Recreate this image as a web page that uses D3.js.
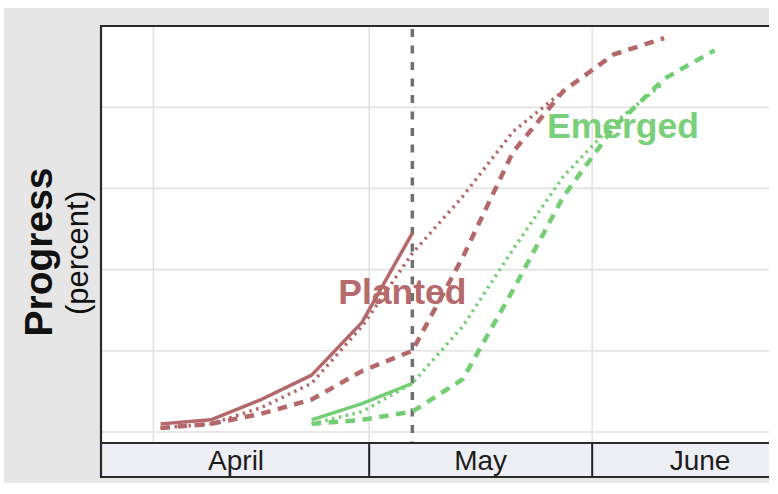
<!DOCTYPE html>
<html>
<head>
<meta charset="utf-8">
<script src="https://cdn.jsdelivr.net/npm/d3@7"></script>
<style>
  html, body { margin: 0; padding: 0; background: #ffffff; }
  svg { display: block; font-family: "Liberation Sans", Arial, Helvetica, sans-serif; }
</style>
</head>
<body>
<svg id="chart" width="778" height="494"></svg>
<script>
// ---------------- DATA ----------------
const plantedDates = ["2023-04-02","2023-04-09","2023-04-16","2023-04-23","2023-04-30","2023-05-07",
                      "2023-05-14","2023-05-21","2023-05-28","2023-06-04","2023-06-11"];
const plantedCurrent  = [2, 3, 8, 14, 27, 49];                       // solid
const plantedLastYear = [1, 2, 6, 12, 26, 44, 58, 74, 84];           // dotted
const plantedAverage  = [1, 2, 4.5, 8, 15, 20, 43, 69, 84, 93, 97];  // dashed

const emergedDates = ["2023-04-23","2023-04-30","2023-05-07","2023-05-14","2023-05-21",
                      "2023-05-28","2023-06-04","2023-06-11","2023-06-18"];
const emergedCurrent  = [3, 7, 12];                                  // solid
const emergedLastYear = [2, 5, 12, 26, 45, 63, 76, 86];              // dotted
const emergedAverage  = [2, 3, 5, 13, 35, 58, 75, 87, 94];           // dashed

const currentWeek = "2023-05-07";
const months = [
  { label: "April", start: "2023-03-25", end: "2023-05-01" },
  { label: "May",   start: "2023-05-01", end: "2023-06-01" },
  { label: "June",  start: "2023-06-01", end: "2023-07-01" }
];
const monthGrid = ["2023-04-01","2023-05-01","2023-06-01"];
const yTicks = [0, 20, 40, 60, 80];
const seriesLabels = [
  { text: "Planted", date: "2023-04-26", value: 31.5, group: "planted" },
  { text: "Emerged", date: "2023-05-26", value: 72.5, group: "emerged" }
];

// ---------------- LAYOUT ----------------
const bg = { x0: 4, y0: 8, x1: 769, y1: 483 };
const plot = { left: 101, top: 26, right: 769, bottom: 443 };
const band = { top: 443, bottom: 477 };
const colors = { planted: "#b5686a", emerged: "#74cf74", plantedText: "#b66a6b", emergedText: "#7acf7a" };

const parse = d3.utcParse("%Y-%m-%d");
const x = d3.scaleUtc().domain([parse("2023-03-25"), parse("2023-07-01")]).range([103, 808]);
const y = d3.scaleLinear().domain([0, 100]).range([432, 26]);

const svg = d3.select("#chart");

// background
svg.append("rect").attr("x", bg.x0).attr("y", bg.y0)
  .attr("width", bg.x1 - bg.x0).attr("height", bg.y1 - bg.y0).attr("fill", "#e6e6e6");

const defs = svg.append("defs");
defs.append("clipPath").attr("id", "clip")
  .append("rect").attr("x", plot.left).attr("y", plot.top)
  .attr("width", plot.right - plot.left).attr("height", band.bottom - plot.top + 2);

const g = svg.append("g").attr("clip-path", "url(#clip)");

// plot area
g.append("rect").attr("x", plot.left).attr("y", plot.top)
  .attr("width", plot.right - plot.left).attr("height", plot.bottom - plot.top).attr("fill", "#ffffff");

// grid
g.selectAll("line.hgrid").data(yTicks).join("line").attr("class", "hgrid")
  .attr("x1", plot.left).attr("x2", plot.right)
  .attr("y1", d => y(d)).attr("y2", d => y(d))
  .attr("stroke", "#e2e2e2").attr("stroke-width", 1.6);
g.selectAll("line.vgrid").data(monthGrid).join("line").attr("class", "vgrid")
  .attr("x1", d => x(parse(d))).attr("x2", d => x(parse(d)))
  .attr("y1", plot.top).attr("y2", plot.bottom)
  .attr("stroke", "#e2e2e2").attr("stroke-width", 1.6);

// series labels (under lines)
g.selectAll("text.slabel").data(seriesLabels).join("text").attr("class", "slabel")
  .attr("x", (d, i) => x(parse(d.date)) + (i === 0 ? 5 : -2)).attr("y", d => y(d.value))
  .attr("font-size", 35.5).attr("font-weight", "bold")
  .attr("fill", d => d.group === "planted" ? colors.plantedText : colors.emergedText)
  .text(d => d.text);

// month band
const bandG = g.append("g");
bandG.append("rect").attr("x", plot.left).attr("y", band.top)
  .attr("width", plot.right - plot.left + 50).attr("height", band.bottom - band.top)
  .attr("fill", "#eeeef5");
bandG.selectAll("text").data(months).join("text")
  .attr("x", d => {
    const a = Math.max(x(parse(d.start)), plot.left);
    const b = x(parse(d.end));
    return (a + b) / 2;
  })
  .attr("y", 470).attr("text-anchor", "middle").attr("font-size", 28).attr("fill", "#1c1c1c")
  .text(d => d.label);
bandG.selectAll("line.div").data(months.slice(1)).join("line").attr("class", "div")
  .attr("x1", d => x(parse(d.start))).attr("x2", d => x(parse(d.start)))
  .attr("y1", band.top).attr("y2", band.bottom)
  .attr("stroke", "#222").attr("stroke-width", 2);

// current week line
g.append("line")
  .attr("x1", x(parse(currentWeek))).attr("x2", x(parse(currentWeek)))
  .attr("y1", plot.top + 3).attr("y2", plot.bottom)
  .attr("stroke", "#6f6f6f").attr("stroke-width", 3.5).attr("stroke-dasharray", "8,8.5");

// lines
const line = d3.line().x(d => x(d[0])).y(d => y(d[1])).curve(d3.curveLinear);
function zipSeries(dates, vals) { return vals.map((v, i) => [parse(dates[i]), v]); }
const series = [
  { dates: plantedDates, vals: plantedAverage,  color: colors.planted, dash: "9.5,7.5", w: 4.5 },
  { dates: plantedDates, vals: plantedLastYear, color: colors.planted, dash: "2.5,4.5", w: 3.5 },
  { dates: emergedDates, vals: emergedAverage,  color: colors.emerged, dash: "9.5,7.5", w: 4.5 },
  { dates: emergedDates, vals: emergedLastYear, color: colors.emerged, dash: "2.5,4.5", w: 3.5 },
  { dates: plantedDates, vals: plantedCurrent,  color: colors.planted, dash: null,      w: 3.5 },
  { dates: emergedDates, vals: emergedCurrent,  color: colors.emerged, dash: null,      w: 3.5 }
];
g.selectAll("path.series").data(series).join("path").attr("class", "series")
  .attr("d", d => line(zipSeries(d.dates, d.vals)))
  .attr("fill", "none").attr("stroke", d => d.color).attr("stroke-width", d => d.w)
  .attr("stroke-dasharray", d => d.dash).attr("stroke-linejoin", "round");

// borders
const bc = "#2a2a2a";
svg.append("line").attr("x1", plot.left).attr("x2", plot.right).attr("y1", plot.top).attr("y2", plot.top)
  .attr("stroke", bc).attr("stroke-width", 2.2);
svg.append("line").attr("x1", plot.left).attr("x2", plot.left).attr("y1", plot.top - 1).attr("y2", band.bottom + 1)
  .attr("stroke", bc).attr("stroke-width", 2.2);
svg.append("line").attr("x1", plot.left).attr("x2", plot.right).attr("y1", band.top).attr("y2", band.top)
  .attr("stroke", bc).attr("stroke-width", 2);
svg.append("line").attr("x1", plot.left).attr("x2", plot.right).attr("y1", band.bottom).attr("y2", band.bottom)
  .attr("stroke", bc).attr("stroke-width", 2);

// y-axis title
svg.append("text").attr("transform", "translate(52,252) rotate(-90)")
  .attr("text-anchor", "middle").attr("font-size", 39).attr("font-weight", "bold").attr("fill", "#111")
  .text("Progress");
svg.append("text").attr("transform", "translate(88,253) rotate(-90)")
  .attr("text-anchor", "middle").attr("font-size", 31).attr("fill", "#111")
  .text("(percent)");
</script>
</body>
</html>
